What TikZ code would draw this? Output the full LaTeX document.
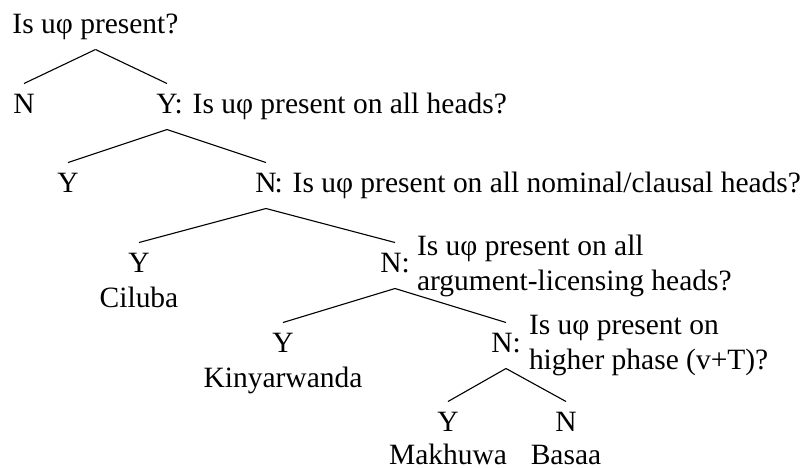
\documentclass[tikz,border=0pt]{standalone}
\usepackage{fontspec}
\setmainfont{Liberation Serif}
\usetikzlibrary{calc}
\begin{document}
\begin{tikzpicture}[x=0.407pt,y=-0.407pt,
  every node/.style={inner sep=0pt,outer sep=0pt,font=\fontsize{12}{14.4}\selectfont},
  lab/.style={anchor=base},
  txt/.style={anchor=base west},
  edge/.style={line width=0.45pt}]
\useasboundingbox (0,0) rectangle (803,467);

% level 0
\node[lab] (r) at (95.5,33) {Is uφ present?};
% level 1
\node[lab] (n1) at (24,113) {N};
\node[lab] (y1) at (167,113) {Y};
\node[txt] (q1) at ([xshift=-1.2pt]y1.base east) {: Is uφ present on all heads?};
% level 2
\node[lab] (y2) at (68,192) {Y};
\node[lab] (n2) at (266,192) {N};
\node[txt] (q2) at ([xshift=-0.8pt]n2.base east) {: Is uφ present on all nominal/clausal heads?};
% level 3
\node[lab] (y3) at (139,272) {Y};
\node[lab] (c3) at (139,307) {Ciluba};
\node[lab] (n3) at (395,272) {N:};
\node[txt] (q3a) at (417,255) {Is uφ present on all};
\node[txt] (q3b) at (417,290) {argument-licensing heads?};
% level 4
\node[lab] (y4) at (283,352) {Y};
\node[lab] (k4) at (283,387) {Kinyarwanda};
\node[lab] (n4) at (506,352) {N:};
\node[txt] (q4a) at (529,334) {Is uφ present on};
\node[txt] (q4b) at (529,369) {higher phase (v+T)?};
% level 5
\node[lab] (y5) at (448,431) {Y};
\node[lab] (m5) at (448,464) {Makhuwa};
\node[lab] (n5) at (566,431) {N};
\node[lab] (b5) at (566,464) {Basaa};

% branches
\foreach \p/\c in {r/n1,r/y1,y1/y2,y1/n2,n2/y3,n2/n3,n3/y4,n3/n4,n4/y5,n4/n5}
  \draw[edge] ($(\p.base)+(0,16.5)$) -- ($(\c.base)+(0,-29.5)$);
\end{tikzpicture}
\end{document}
